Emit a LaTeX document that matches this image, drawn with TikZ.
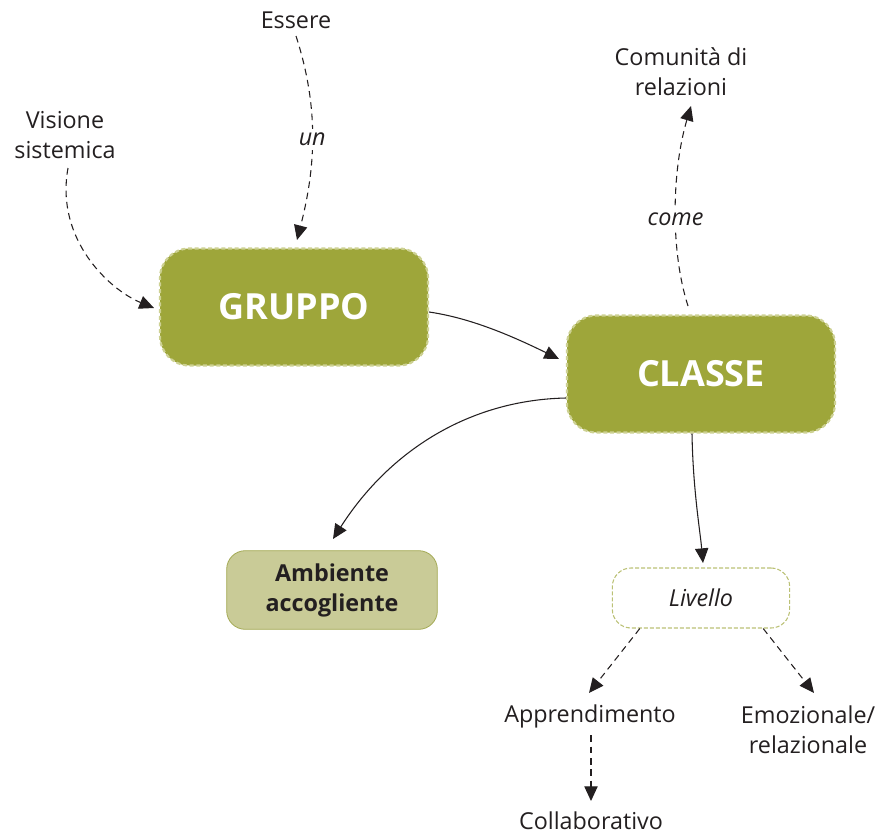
\documentclass[tikz,border=0pt]{standalone}
\usepackage{fontspec}
\setmainfont{Open Sans}
\usetikzlibrary{arrows.meta,positioning}
\definecolor{olive}{HTML}{9EA63A}
\definecolor{oliveedge}{HTML}{CDD193}
\definecolor{pale}{HTML}{C9CB97}
\definecolor{paleedge}{HTML}{A4AA55}
\definecolor{ink}{HTML}{231F20}
\tikzset{
  mainbox/.style={rounded corners=22pt, fill=olive, draw=oliveedge, line width=1.6pt,
    dash pattern=on 3pt off 2pt, minimum width=201pt, minimum height=87.75pt,
    text=white, font=\fontsize{27}{32}\selectfont\bfseries},
  softbox/.style={rounded corners=14pt, fill=pale, draw=paleedge, line width=0.6pt,
    minimum width=158pt, minimum height=59pt, text=ink, align=center,
    font=\fontsize{17.5}{22.5}\selectfont\bfseries},
  levelbox/.style={rounded corners=14pt, fill=white, draw=olive!70, line width=0.8pt,
    dash pattern=on 3pt off 1.5pt, minimum width=133pt, minimum height=45pt,
    text=ink, font=\fontsize{17.5}{20}\selectfont\itshape},
  plain/.style={text=ink, align=center, font=\fontsize{17.5}{22.5}\selectfont},
  tag/.style={text=ink, fill=white, inner sep=3pt, font=\fontsize{17.5}{20}\selectfont\itshape},
  link/.style={draw=ink, line width=0.8pt, -{Triangle[length=11pt,width=10pt]}},
  dlink/.style={link, dash pattern=on 5pt off 3.5pt}
}
\begin{document}
\begin{tikzpicture}[x=0.75pt,y=-0.75pt]
\useasboundingbox (0,0) rectangle (882,835);

% main concepts
\node[mainbox] (gruppo) at (294,307) {GRUPPO};
\node[mainbox] (classe) at (701,374) {CLASSE};
\node[softbox] (amb) at (332,590) {Ambiente\\accogliente};
\node[levelbox] (liv) at (701,598) {Livello};

% free labels
\node[plain] (essere) at (296,20) {Essere};
\node[plain] (visione) at (65,135) {Visione\\sistemica};
\node[plain] (comunita) at (681,72) {Comunità di\\relazioni};
\node[plain] (appr) at (590,716) {Apprendimento};
\node[plain] (emoz) at (808,730) {Emozionale/\\relazionale};
\node[plain] (coll) at (591,821) {Collaborativo};

% anchor points of the connectors
\coordinate (e1) at (296,36);
\coordinate (e2) at (297,240);
\coordinate (v1) at (68,168);
\coordinate (v2) at (154,308);
\coordinate (c1) at (688,306);
\coordinate (c2) at (691,106);

% connectors
\draw[dlink] (e1) .. controls (320,110) and (315,170) .. node[tag, pos=0.5] (un) {un} (e2);
\draw[dlink] (v1) .. controls (55,240) and (110,290) .. (v2);
\draw[link] (gruppo.east) ++(0,5) .. controls (470,318) and (510,335) .. (559,359);
\draw[dlink] (c1) .. controls (670,250) and (672,170) .. node[tag, pos=0.45] (come) {come} (c2);
\draw[link] (classe.west) ++(0,24) .. controls (470,400) and (390,450) .. (333,539);
\draw[link] (classe.south) ++(-9,0) .. controls (693,490) and (700,530) .. (703,563);
\draw[dlink] (liv.south west) ++(28,0) -- (589,693);
\draw[dlink] (liv.south east) ++(-27,0) -- (814,693);
\draw[dlink] (appr.south) ++(1,3) -- (591,801);
\end{tikzpicture}
\end{document}
